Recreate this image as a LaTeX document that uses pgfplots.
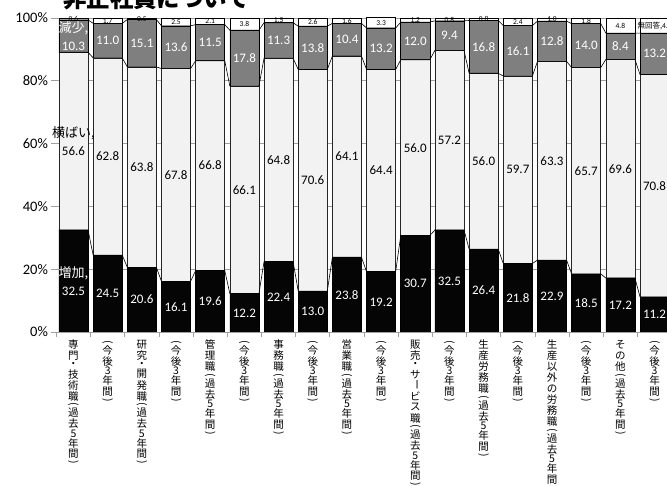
\documentclass[border=0pt]{standalone}
\usepackage{pgfplots}
\pgfplotsset{compat=1.18}
\usepackage{pgfplotstable}
\usepackage{graphicx}
\usepackage{fontspec}
\setmainfont{Carlito}
\newfontfamily\cjk{Noto Sans CJK JP}
\pgfplotsset{/pgf/number format/assume math mode=true}

\definecolor{incc}{HTML}{050505}
\definecolor{flatc}{HTML}{F2F2F2}
\definecolor{decc}{HTML}{7F7F7F}
\definecolor{gridc}{HTML}{A0A0A0}

% vertical (tategaki) labels
\newcommand\vslot[2]{\hbox to 14pt{\hss\vbox to #1{\vss\hbox{#2}\vss}\hss}}
\def\vtend{\vtend}
\newcommand\vchar[1]{%
  \ifx#1(\vslot{5.5pt}{\rotatebox{-90}{(}}\else
  \ifx#1)\vslot{5.5pt}{\rotatebox{-90}{)}}\else
  \ifx#1ー\vslot{11pt}{\rotatebox{-90}{ー}}\else
  \ifx#1・\vslot{7.5pt}{・}\else
  \ifx#13\vslot{8.5pt}{3}\else
  \ifx#15\vslot{8.5pt}{5}\else
  \vslot{11pt}{#1}\fi\fi\fi\fi\fi\fi}
\def\vtloop#1{\ifx#1\vtend\else\vchar{#1}\expandafter\vtloop\fi}
\newcommand\vtext[1]{\vtop{\offinterlineskip\cjk\fontsize{10.5}{10.5}\selectfont\vtloop#1\vtend}}

\pgfplotstableread{
x inc flat dec na
0 32.5 56.6 10.3 0.6
1 24.5 62.8 11.0 1.7
2 20.6 63.8 15.1 0.5
3 16.1 67.8 13.6 2.5
4 19.6 66.8 11.5 2.1
5 12.2 66.1 17.8 3.8
6 22.4 64.8 11.3 1.5
7 13.0 70.6 13.8 2.6
8 23.8 64.1 10.4 1.6
9 19.2 64.4 13.2 3.3
10 30.7 56.0 12.0 1.2
11 32.5 57.2 9.4 0.8
12 26.4 56.0 16.8 0.8
13 21.8 59.7 16.1 2.4
14 22.9 63.3 12.8 1.0
15 18.5 65.7 14.0 1.8
16 17.2 69.6 8.4 4.8
17 11.2 70.8 13.2 4.8
}\data

% series lines: two points per bar (left and right edge) at each cumulative boundary
\pgfplotstableset{
 create on use/xx/.style={create col/assign/.code={%
   \pgfmathtruncatemacro\rr{(\pgfplotstablerow+0.5)/2}%
   \pgfmathtruncatemacro\ss{\pgfplotstablerow-2*\rr}%
   \pgfmathsetmacro\vv{\rr+(\ss-0.5)*0.85}%
   \pgfkeyslet{/pgfplots/table/create col/next content}\vv}},
 create on use/ca/.style={create col/assign/.code={%
   \pgfmathtruncatemacro\rr{(\pgfplotstablerow+0.5)/2}%
   \pgfplotstablegetelem{\rr}{inc}\of\data
   \pgfmathsetmacro\vv{\pgfplotsretval}%
   \pgfkeyslet{/pgfplots/table/create col/next content}\vv}},
 create on use/cb/.style={create col/assign/.code={%
   \pgfmathtruncatemacro\rr{(\pgfplotstablerow+0.5)/2}%
   \pgfplotstablegetelem{\rr}{inc}\of\data
   \let\va\pgfplotsretval
   \pgfplotstablegetelem{\rr}{flat}\of\data
   \pgfmathsetmacro\vv{\va+\pgfplotsretval}%
   \pgfkeyslet{/pgfplots/table/create col/next content}\vv}},
 create on use/cc/.style={create col/assign/.code={%
   \pgfmathtruncatemacro\rr{(\pgfplotstablerow+0.5)/2}%
   \pgfplotstablegetelem{\rr}{inc}\of\data
   \let\va\pgfplotsretval
   \pgfplotstablegetelem{\rr}{flat}\of\data
   \let\vb\pgfplotsretval
   \pgfplotstablegetelem{\rr}{dec}\of\data
   \pgfmathsetmacro\vv{\va+\vb+\pgfplotsretval}%
   \pgfkeyslet{/pgfplots/table/create col/next content}\vv}},
}
\pgfplotstablenew[columns={xx,ca,cb,cc}]{36}\lines

\pgfplotsset{
 base/.style={at={(56.4pt,153pt)}, anchor=south west, scale only axis,
   width=615.24pt, height=314pt, xmin=-0.5, xmax=17.5, ymin=0, ymax=100},
 lab/.style={only marks, mark=text, text mark={},
   point meta=explicit,
   nodes near coords={\pgfmathprintnumber[fixed,fixed zerofill,precision=1]{\pgfplotspointmeta}},
   every node near coord/.append style={anchor=center, inner sep=0pt,
     font=\fontsize{13}{18}\selectfont, align=center, text=#1}},
 nalab/.style={only marks, mark=text, text mark={},
   point meta=explicit,
   nodes near coords={\pgfmathprintnumber[fixed,fixed zerofill,precision=1]{\pgfplotspointmeta}},
   every node near coord/.append style={anchor=center, inner sep=0pt,
     font=\fontsize{7.5}{8}\selectfont, text=black}},
}

\begin{document}
\begin{tikzpicture}
\path[use as bounding box, clip] (0,0) rectangle (667pt,485pt);
\node[anchor=base west, inner sep=0pt, font=\cjk\bfseries\fontsize{23.4}{24}\selectfont] at (63pt,477.4pt) {非正社員について};

\begin{axis}[base,
  ybar stacked, bar width=0.85,
  axis x line*=bottom, axis y line*=left,
  y axis line style={draw=none},
  x axis line style={gridc, line width=0.8pt},
  tick align=outside, major tick length=5pt,
  tick style={gridc, line width=0.8pt},
  xtick={-0.5,0.5,...,17.5}, xticklabel={\hbox{}},
  ytick={0,20,...,100},
  ymajorgrids, grid style={gridc, line width=0.8pt},
  yticklabel={\pgfmathprintnumber{\tick}\%},
  yticklabel style={font=\fontsize{14.5}{15}\selectfont},
]
\addplot[fill=incc, draw=black, line width=0.6pt] table[x=x, y=inc]{\data};
\addplot[fill=flatc, draw=black!85, line width=0.6pt] table[x=x, y=flat]{\data};
\addplot[fill=decc, draw=black, line width=0.6pt] table[x=x, y=dec]{\data};
\addplot[fill=white, draw=black, line width=0.6pt] table[x=x, y=na]{\data};
\end{axis}

\begin{axis}[base, clip=false,
  axis line style={draw=none}, tick style={draw=none},
  ytick=\empty,
  xtick={0,...,17},
  xticklabels={
    {\vtext{専門・技術職(過去5年間)}},
    {\vtext{(今後3年間)}},
    {\vtext{研究・開発職(過去5年間)}},
    {\vtext{(今後3年間)}},
    {\vtext{管理職(過去5年間)}},
    {\vtext{(今後3年間)}},
    {\vtext{事務職(過去5年間)}},
    {\vtext{(今後3年間)}},
    {\vtext{営業職(過去5年間)}},
    {\vtext{(今後3年間)}},
    {\vtext{販売・サービス職(過去5年間)}},
    {\vtext{(今後3年間)}},
    {\vtext{生産労務職(過去5年間)}},
    {\vtext{(今後3年間)}},
    {\vtext{生産以外の労務職(過去5年間)}},
    {\vtext{(今後3年間)}},
    {\vtext{その他(過去5年間)}},
    {\vtext{(今後3年間)}}},
  xticklabel style={anchor=north, inner sep=0pt, yshift=-7pt},
]
% series lines
\addplot[black, line width=0.6pt, mark=none] table[x=xx, y=ca]{\lines};
\addplot[black, line width=0.6pt, mark=none] table[x=xx, y=cb]{\lines};
\addplot[black, line width=0.6pt, mark=none] table[x=xx, y=cc]{\lines};

% value labels
\addplot[lab=white, skip coords between index={0}{1}] table[x=x, y expr=\thisrow{inc}/2, meta=inc]{\data};
\addplot[lab=black, skip coords between index={0}{1}] table[x=x, y expr=\thisrow{inc}+\thisrow{flat}/2, meta=flat]{\data};
\addplot[lab=white, skip coords between index={0}{1}] table[x=x, y expr=\thisrow{inc}+\thisrow{flat}+\thisrow{dec}/2, meta=dec]{\data};
\addplot[nalab, skip coords between index={17}{18}] table[x=x, y expr=\thisrow{inc}+\thisrow{flat}+\thisrow{dec}+\thisrow{na}/2, meta=na]{\data};

% first bar labels with series names
\addplot[lab=white, skip coords between index={1}{18},
  nodes near coords={{\cjk 増加,}\\\pgfmathprintnumber[fixed,fixed zerofill,precision=1]{\pgfplotspointmeta}}]
  table[x=x, y expr=\thisrow{inc}/2, meta=inc]{\data};
\addplot[lab=black, skip coords between index={1}{18},
  nodes near coords={{\cjk 横ばい,}\\\pgfmathprintnumber[fixed,fixed zerofill,precision=1]{\pgfplotspointmeta}}]
  table[x=x, y expr=\thisrow{inc}+\thisrow{flat}/2, meta=flat]{\data};
\addplot[lab=white, skip coords between index={1}{18},
  nodes near coords={{\cjk 減少,}\\\pgfmathprintnumber[fixed,fixed zerofill,precision=1]{\pgfplotspointmeta}}]
  table[x=x, y expr=\thisrow{inc}+\thisrow{flat}+\thisrow{dec}/2, meta=dec]{\data};
\addplot[nalab, skip coords between index={0}{17},
  nodes near coords={{\cjk 無回答,}\pgfmathprintnumber[fixed,fixed zerofill,precision=1]{\pgfplotspointmeta}}]
  table[x=x, y expr=\thisrow{inc}+\thisrow{flat}+\thisrow{dec}+\thisrow{na}/2, meta=na]{\data};
\end{axis}
\end{tikzpicture}
\end{document}
